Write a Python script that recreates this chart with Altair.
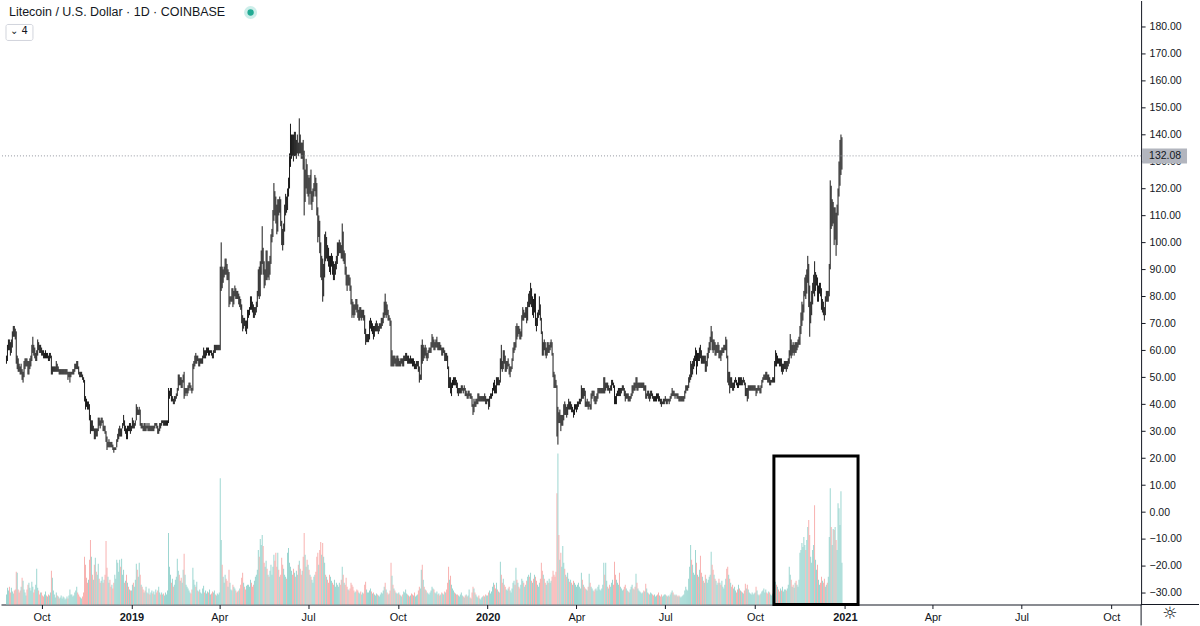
import altair as alt
import pandas as pd

# ---------------- data ----------------
first_day = "2018-08-26"
first_open = 56.0

close = [
    # Aug 2018 (26-31)
    57, 61, 63, 62, 60, 62,
    # Sep 2018
    66, 68, 67, 66, 56, 56, 54, 53, 52, 53, 51, 51, 55, 55, 56, 55, 52, 55, 55, 57, 61, 61, 60, 58, 58, 59, 62, 61, 60, 61,
    # Oct 2018
    60, 59, 58, 58, 59, 58, 58, 57, 58, 58, 53, 53, 53, 53, 53, 54, 53, 53, 52, 52, 52, 52, 52, 52, 52, 52, 52, 51, 51, 51, 51,
    # Nov 2018
    52, 52, 52, 54, 54, 55, 54, 52, 51, 51, 51, 50, 49, 42, 41, 40, 39, 40, 35, 31, 33, 31, 31, 29, 30, 29, 30, 34, 33, 32,
    # Dec 2018
    34, 34, 31, 32, 30, 27, 25, 25, 26, 25, 24, 25, 24, 23, 23, 24, 27, 28, 29, 31, 29, 31, 32, 34, 30, 31, 28, 32, 31, 32, 30,
    # Jan 2019
    32, 34, 32, 33, 34, 38, 37, 37, 38, 33, 33, 32, 31, 33, 31, 32, 32, 31, 32, 31, 31, 32, 31, 32, 32, 33, 32, 30, 31, 33, 32,
    # Feb 2019
    33, 34, 33, 33, 33, 33, 33, 44, 44, 46, 42, 42, 41, 42, 42, 43, 45, 50, 48, 50, 47, 48, 50, 43, 45, 45, 45, 46,
    # Mar 2019
    47, 47, 46, 45, 54, 55, 57, 56, 57, 57, 55, 56, 56, 56, 57, 60, 58, 59, 60, 60, 59, 59, 60, 59, 58, 59, 61, 60, 61, 61, 61,
    # Apr 2019
    61, 85, 89, 87, 89, 90, 93, 91, 88, 88, 78, 79, 79, 82, 77, 81, 82, 81, 80, 81, 78, 78, 76, 72, 68, 71, 70, 69, 69, 74,
    # May 2019
    74, 75, 78, 77, 76, 74, 74, 75, 77, 81, 87, 82, 91, 94, 96, 92, 86, 87, 95, 89, 91, 89, 93, 101, 103, 110, 117, 114, 112, 107, 114,
    # Jun 2019
    113, 115, 107, 103, 100, 105, 111, 116, 113, 119, 122, 130, 136, 137, 136, 133, 139, 134, 136, 137, 135, 138, 135, 134, 134, 130, 118, 124, 128, 120,
    # Jul 2019
    120, 119, 122, 116, 116, 118, 120, 122, 121, 112, 104, 107, 98, 89, 93, 82, 88, 98, 96, 98, 96, 94, 92, 93, 94, 90, 88, 89, 91, 93, 98,
    # Aug 2019
    99, 99, 98, 96, 101, 95, 95, 90, 86, 85, 87, 86, 84, 78, 77, 76, 74, 76, 78, 76, 73, 73, 75, 73, 73, 74, 72, 67, 64, 65, 65,
    # Sep 2019
    65, 70, 70, 68, 68, 66, 68, 69, 69, 68, 68, 69, 69, 71, 71, 73, 76, 74, 76, 75, 72, 72, 70, 57, 57, 55, 57, 56, 56, 57,
    # Oct 2019
    55, 56, 55, 56, 56, 54, 57, 57, 58, 58, 56, 57, 56, 57, 56, 55, 56, 54, 54, 55, 55, 53, 50, 50, 58, 57, 60, 59, 60, 58, 58,
    # Nov 2019
    59, 60, 60, 62, 63, 63, 61, 62, 63, 63, 61, 62, 61, 61, 59, 60, 60, 57, 58, 57, 54, 48, 49, 46, 47, 48, 49, 48, 49, 47,
    # Dec 2019
    45, 45, 45, 45, 45, 46, 45, 46, 44, 44, 43, 44, 44, 43, 43, 40, 38, 41, 40, 41, 41, 43, 42, 42, 42, 42, 43, 42, 43, 41, 41,
    # Jan 2020
    42, 39, 42, 43, 43, 46, 47, 46, 45, 49, 48, 49, 48, 56, 55, 53, 58, 57, 54, 54, 55, 55, 51, 53, 53, 57, 60, 62, 61, 68, 66,
    # Feb 2020
    68, 67, 66, 66, 72, 74, 73, 73, 75, 72, 77, 80, 79, 82, 78, 78, 76, 80, 71, 70, 73, 74, 77, 72, 67, 60, 62, 61, 59,
    # Mar 2020
    59, 62, 61, 61, 62, 63, 59, 51, 49, 48, 47, 32, 37, 34, 36, 32, 34, 34, 39, 38, 38, 36, 39, 40, 39, 40, 38, 38, 36, 39, 39,
    # Apr 2020
    39, 40, 40, 41, 41, 45, 43, 45, 44, 40, 40, 41, 40, 40, 39, 43, 43, 44, 43, 41, 42, 43, 45, 45, 45, 45, 45, 45, 49, 45,
    # May 2020
    47, 47, 46, 46, 45, 46, 48, 48, 47, 42, 41, 43, 44, 45, 44, 45, 45, 46, 46, 44, 42, 43, 43, 41, 42, 42, 44, 46, 45, 47, 46,
    # Jun 2020
    49, 46, 47, 47, 47, 47, 47, 47, 46, 46, 43, 44, 44, 43, 43, 44, 44, 43, 42, 42, 42, 44, 43, 42, 42, 41, 40, 41, 41, 41,
    # Jul 2020
    42, 41, 41, 42, 41, 43, 43, 45, 44, 44, 43, 44, 43, 43, 42, 42, 42, 42, 42, 42, 44, 46, 46, 46, 49, 50, 53, 52, 55, 55, 57,
    # Aug 2020
    59, 55, 58, 57, 60, 59, 56, 57, 56, 57, 53, 55, 58, 60, 61, 64, 66, 63, 61, 63, 59, 61, 61, 62, 58, 59, 58, 60, 60, 61, 61,
    # Sep 2020
    64, 58, 50, 52, 47, 49, 48, 46, 47, 48, 49, 48, 47, 49, 48, 49, 48, 48, 49, 48, 44, 45, 42, 46, 46, 46, 46, 46, 46, 46,
    # Oct 2020
    46, 45, 46, 46, 46, 45, 46, 48, 49, 50, 50, 51, 50, 49, 50, 48, 48, 49, 49, 49, 55, 58, 56, 57, 56, 55, 56, 53, 54, 54, 55,
    # Nov 2020
    55, 54, 55, 56, 59, 63, 59, 61, 60, 60, 62, 61, 62, 63, 64, 68, 71, 74, 75, 81, 86, 83, 88, 90, 82, 71, 76, 80, 82, 87,
    # Dec 2020 (1-29)
    83, 85, 86, 79, 83, 84, 82, 76, 77, 75, 74, 79, 81, 80, 81, 91, 114, 111, 111, 111, 104, 111, 100, 112, 118, 124, 127, 130, 132.08,
]

high = [
    58, 62, 64, 64, 63, 64,
    67, 69, 69, 68, 67, 58, 57, 55, 54, 55, 53, 52, 56, 57, 57, 57, 56, 56, 57, 58, 62, 65, 62, 61, 59, 60, 64, 63, 62, 62,
    61, 60, 60, 59, 60, 59, 59, 58, 59, 59, 58, 54, 54, 54, 54, 56, 55, 54, 53, 53, 53, 53, 53, 53, 53, 53, 53, 52, 52, 52, 52,
    52, 53, 53, 55, 55, 56, 56, 54, 52, 52, 52, 51, 50, 49, 43, 42, 41, 41, 40, 36, 34, 34, 32, 31, 31, 31, 31, 35, 35, 34,
    35, 35, 34, 32, 32, 30, 28, 26, 27, 26, 26, 26, 25, 24, 24, 24, 27, 29, 31, 32, 31, 31, 33, 36, 34, 32, 31, 32, 32, 33, 33,
    32, 35, 34, 33, 34, 40, 39, 38, 39, 38, 33, 33, 32, 33, 33, 32, 33, 32, 33, 32, 32, 32, 32, 32, 33, 33, 33, 32, 31, 33, 33,
    34, 34, 34, 34, 34, 34, 34, 46, 45, 46, 46, 43, 42, 43, 43, 44, 46, 51, 51, 50, 50, 49, 51, 52, 46, 46, 46, 47,
    48, 48, 47, 46, 55, 56, 58, 59, 58, 58, 57, 57, 57, 57, 58, 61, 60, 60, 61, 61, 61, 60, 60, 60, 59, 60, 62, 62, 62, 62, 62,
    62, 91, 100, 91, 90, 91, 94, 94, 92, 90, 89, 80, 80, 83, 83, 82, 84, 83, 82, 82, 81, 80, 79, 77, 73, 72, 72, 71, 71, 75,
    75, 76, 80, 80, 78, 77, 76, 76, 78, 82, 90, 91, 93, 97, 106, 98, 93, 90, 97, 97, 93, 93, 95, 103, 105, 112, 122, 119, 117, 114, 116,
    116, 117, 116, 108, 105, 107, 114, 118, 117, 120, 124, 133, 144, 140, 140, 140, 141, 141, 138, 140, 137, 146, 140, 137, 137, 138, 134, 127, 131, 129,
    125, 124, 125, 127, 119, 120, 122, 125, 124, 122, 113, 110, 108, 100, 95, 94, 92, 103, 104, 102, 99, 98, 95, 95, 96, 95, 93, 92, 93, 95, 100,
    100, 101, 100, 99, 107, 104, 97, 96, 91, 88, 88, 88, 87, 84, 79, 78, 77, 77, 79, 79, 77, 75, 76, 76, 75, 75, 75, 73, 68, 66, 66,
    66, 71, 72, 71, 70, 69, 69, 70, 71, 70, 69, 70, 70, 72, 72, 74, 78, 81, 78, 77, 75, 73, 72, 71, 60, 58, 58, 58, 57, 58,
    58, 57, 56, 57, 57, 57, 58, 58, 59, 59, 58, 58, 57, 58, 57, 57, 57, 56, 55, 56, 56, 56, 54, 51, 62, 64, 62, 61, 62, 61, 59,
    60, 61, 61, 63, 66, 65, 64, 63, 64, 65, 63, 63, 63, 62, 61, 61, 61, 60, 59, 59, 58, 54, 50, 50, 48, 49, 50, 50, 50, 49,
    48, 46, 46, 46, 47, 47, 46, 47, 46, 45, 44, 45, 45, 44, 44, 43, 40, 42, 41, 42, 42, 44, 44, 43, 43, 43, 43, 43, 44, 43, 42,
    42, 42, 43, 44, 44, 46, 48, 49, 47, 50, 50, 50, 49, 57, 62, 56, 60, 60, 58, 56, 56, 57, 55, 54, 54, 57, 61, 63, 63, 69, 70,
    69, 69, 68, 67, 73, 76, 75, 74, 76, 76, 78, 81, 82, 85, 83, 80, 79, 81, 81, 72, 74, 75, 80, 77, 72, 67, 63, 64, 63,
    61, 63, 63, 62, 63, 64, 63, 59, 52, 51, 49, 47, 39, 37, 38, 36, 36, 36, 40, 41, 40, 39, 40, 42, 41, 41, 40, 39, 38, 40, 40,
    40, 41, 41, 42, 42, 47, 46, 46, 46, 45, 41, 42, 41, 41, 40, 44, 45, 45, 45, 43, 43, 44, 46, 46, 46, 46, 46, 46, 50, 50,
    48, 48, 48, 47, 46, 47, 49, 49, 48, 47, 43, 44, 45, 46, 46, 46, 46, 47, 47, 46, 45, 44, 44, 44, 43, 43, 44, 47, 47, 48, 48,
    50, 50, 48, 48, 48, 48, 48, 48, 48, 47, 47, 44, 45, 45, 44, 45, 45, 44, 43, 43, 43, 44, 44, 44, 43, 42, 42, 41, 42, 42,
    43, 42, 42, 42, 42, 43, 44, 46, 45, 45, 44, 44, 44, 44, 43, 43, 43, 43, 43, 43, 45, 47, 47, 47, 50, 51, 56, 55, 56, 57, 58,
    61, 60, 59, 59, 61, 62, 60, 58, 58, 58, 58, 56, 59, 61, 63, 65, 69, 67, 64, 64, 63, 62, 62, 63, 62, 60, 60, 61, 61, 62, 62,
    65, 64, 58, 52, 52, 50, 50, 48, 48, 49, 50, 49, 48, 50, 50, 50, 50, 49, 50, 49, 48, 46, 46, 47, 47, 47, 47, 47, 47, 47,
    47, 46, 46, 47, 47, 46, 47, 49, 50, 51, 51, 52, 52, 51, 51, 50, 49, 49, 50, 50, 56, 60, 59, 58, 57, 57, 57, 57, 55, 55, 56,
    56, 56, 56, 57, 60, 66, 64, 62, 63, 62, 63, 63, 63, 64, 65, 69, 74, 78, 77, 82, 87, 88, 90, 95, 92, 84, 78, 82, 85, 88,
    93, 89, 88, 87, 84, 85, 85, 83, 79, 78, 76, 80, 82, 82, 82, 92, 123, 121, 116, 115, 113, 113, 111, 114, 120, 130, 138, 140, 139,
]

low = [
    55, 56, 60, 60, 58, 59,
    61, 65, 65, 64, 55, 53, 52, 52, 51, 51, 49, 48, 50, 53, 54, 54, 51, 51, 53, 54, 56, 59, 58, 57, 56, 56, 58, 60, 59, 59,
    58, 58, 57, 57, 57, 57, 57, 56, 56, 57, 51, 51, 52, 52, 52, 52, 52, 52, 51, 51, 51, 51, 51, 51, 51, 51, 51, 49, 50, 48, 50,
    51, 51, 51, 52, 53, 53, 53, 51, 50, 50, 50, 49, 48, 41, 38, 39, 38, 38, 34, 29, 30, 30, 30, 27, 27, 28, 28, 30, 32, 31,
    32, 33, 30, 30, 29, 26, 23, 24, 24, 24, 24, 24, 23, 22, 23, 23, 24, 26, 27, 28, 28, 28, 31, 32, 30, 29, 27, 27, 30, 30, 29,
    30, 31, 31, 31, 32, 34, 36, 36, 36, 32, 31, 31, 30, 30, 30, 30, 31, 30, 30, 30, 30, 30, 30, 30, 31, 32, 31, 29, 29, 30, 31,
    32, 33, 32, 32, 32, 32, 32, 33, 42, 43, 41, 41, 40, 40, 41, 42, 43, 45, 47, 47, 46, 46, 48, 42, 43, 44, 43, 44,
    45, 46, 45, 44, 45, 53, 54, 55, 55, 56, 54, 54, 55, 55, 55, 57, 57, 57, 58, 59, 58, 58, 59, 58, 57, 57, 59, 59, 60, 60, 60,
    60, 60, 82, 83, 85, 87, 88, 88, 86, 86, 76, 77, 78, 78, 76, 77, 80, 79, 79, 79, 77, 76, 75, 70, 67, 68, 69, 67, 66, 68,
    72, 73, 75, 75, 74, 72, 72, 73, 74, 76, 80, 79, 80, 88, 92, 88, 83, 84, 86, 86, 87, 86, 88, 92, 100, 102, 108, 110, 107, 103, 104,
    110, 111, 106, 99, 97, 99, 104, 110, 111, 112, 117, 120, 128, 131, 132, 130, 132, 132, 131, 133, 132, 133, 133, 131, 131, 127, 110, 115, 120, 118,
    117, 114, 118, 114, 112, 115, 117, 119, 117, 110, 100, 102, 96, 87, 86, 78, 80, 87, 93, 94, 93, 91, 89, 88, 91, 88, 86, 86, 88, 90, 92,
    95, 96, 96, 94, 94, 93, 92, 88, 84, 82, 84, 84, 82, 77, 72, 73, 72, 73, 75, 74, 72, 71, 71, 72, 71, 72, 71, 66, 62, 63, 63,
    63, 64, 68, 67, 66, 64, 65, 67, 67, 67, 66, 67, 68, 68, 69, 70, 72, 73, 72, 73, 71, 71, 69, 54, 54, 54, 54, 55, 54, 54,
    54, 54, 54, 54, 55, 54, 54, 56, 56, 56, 55, 55, 55, 55, 55, 54, 54, 53, 53, 53, 54, 52, 48, 49, 49, 55, 56, 57, 58, 57, 56,
    57, 59, 59, 59, 61, 61, 60, 60, 61, 61, 60, 60, 60, 60, 58, 58, 59, 56, 56, 56, 53, 46, 46, 44, 43, 46, 47, 47, 47, 46,
    44, 43, 44, 44, 44, 45, 44, 45, 43, 43, 42, 42, 43, 42, 42, 39, 36, 37, 39, 39, 40, 40, 41, 41, 41, 41, 41, 41, 41, 40, 40,
    41, 38, 39, 42, 42, 43, 45, 44, 44, 44, 47, 47, 47, 48, 53, 52, 53, 55, 52, 52, 53, 54, 51, 50, 52, 53, 56, 59, 60, 61, 64,
    65, 66, 64, 64, 65, 71, 71, 72, 72, 70, 71, 76, 76, 77, 76, 73, 72, 74, 69, 67, 69, 72, 73, 71, 66, 58, 58, 60, 58,
    57, 58, 59, 59, 60, 61, 58, 50, 46, 46, 46, 28, 25, 33, 33, 30, 32, 32, 34, 36, 36, 35, 36, 38, 38, 38, 37, 37, 35, 36, 38,
    37, 38, 39, 40, 40, 41, 42, 42, 43, 39, 39, 39, 38, 39, 38, 38, 42, 43, 41, 40, 40, 41, 42, 44, 44, 44, 44, 44, 44, 44,
    45, 46, 45, 45, 44, 45, 45, 47, 46, 40, 40, 40, 43, 43, 43, 43, 44, 45, 45, 43, 41, 42, 42, 41, 41, 41, 42, 43, 44, 45, 45,
    46, 45, 45, 46, 46, 46, 46, 46, 45, 45, 42, 42, 43, 42, 41, 42, 43, 42, 41, 41, 41, 41, 42, 41, 41, 40, 39, 40, 40, 40,
    41, 40, 40, 41, 40, 41, 42, 43, 43, 43, 42, 43, 42, 42, 41, 41, 41, 41, 41, 41, 42, 44, 45, 45, 46, 48, 49, 50, 51, 53, 54,
    56, 51, 54, 56, 56, 57, 55, 55, 55, 55, 52, 52, 54, 57, 59, 60, 63, 60, 59, 60, 58, 58, 59, 59, 57, 57, 56, 58, 59, 59, 60,
    60, 57, 48, 47, 44, 46, 46, 45, 45, 46, 48, 47, 46, 46, 47, 47, 47, 47, 48, 47, 43, 43, 41, 42, 45, 45, 45, 45, 45, 45,
    45, 43, 44, 45, 45, 44, 44, 46, 48, 49, 49, 49, 49, 48, 48, 47, 47, 48, 48, 48, 48, 54, 54, 55, 55, 54, 54, 52, 51, 52, 53,
    53, 52, 53, 54, 55, 58, 57, 58, 59, 58, 59, 59, 60, 61, 62, 62, 66, 69, 71, 74, 80, 79, 81, 85, 76, 65, 70, 73, 77, 81,
    80, 82, 84, 78, 78, 81, 80, 75, 74, 73, 71, 73, 78, 78, 78, 80, 90, 105, 106, 107, 99, 101, 95, 99, 110, 117, 121, 125, 127,
]

# daily volume, in units of 10k LTC
volume = [
    10, 17, 14, 18, 12, 17,
    13, 11, 14, 15, 33, 32, 15, 12, 14, 18, 27, 24, 15, 12, 9, 15, 20, 22, 17, 14, 23, 18, 12, 15, 20, 36, 17, 14, 10, 12,
    12, 9, 8, 10, 13, 9, 8, 10, 9, 12, 34, 27, 14, 10, 7, 12, 9, 8, 6, 7, 9, 6, 8, 7, 5, 6, 8, 6, 9, 15, 10,
    10, 8, 9, 12, 14, 18, 12, 10, 8, 7, 6, 8, 12, 48, 40, 27, 22, 25, 45, 65, 48, 30, 25, 40, 47, 33, 30, 41, 26, 22,
    24, 28, 22, 25, 30, 64, 37, 28, 22, 25, 18, 20, 16, 22, 30, 26, 45, 42, 33, 45, 38, 46, 30, 35, 22, 24, 30, 22, 18, 15, 14,
    14, 20, 22, 18, 25, 41, 35, 28, 42, 30, 20, 18, 15, 12, 14, 18, 12, 11, 16, 10, 12, 14, 11, 13, 10, 15, 12, 14, 18, 12, 10,
    12, 10, 11, 9, 12, 10, 14, 72, 38, 30, 22, 26, 18, 20, 25, 28, 46, 34, 30, 24, 27, 22, 35, 51, 30, 20, 18, 16,
    14, 12, 11, 15, 37, 25, 20, 18, 23, 14, 13, 15, 12, 11, 16, 19, 12, 14, 11, 13, 12, 15, 10, 11, 13, 12, 14, 10, 9, 11, 10,
    12, 127, 65, 40, 28, 22, 30, 26, 24, 18, 35, 22, 15, 14, 20, 18, 16, 14, 12, 13, 14, 16, 20, 27, 32, 22, 18, 15, 19, 20,
    20, 18, 25, 22, 18, 20, 24, 28, 30, 35, 55, 48, 66, 60, 70, 59, 42, 38, 44, 36, 30, 28, 34, 40, 30, 38, 50, 44, 52, 38, 52,
    35, 28, 30, 47, 40, 36, 30, 28, 26, 52, 57, 42, 38, 34, 30, 36, 32, 28, 34, 30, 40, 44, 36, 30, 34, 48, 72, 50, 38, 45,
    40, 35, 30, 28, 25, 22, 28, 30, 33, 48, 52, 40, 55, 63, 50, 62, 48, 42, 30, 28, 25, 22, 30, 28, 24, 22, 20, 25, 18, 22, 20,
    18, 22, 20, 25, 38, 30, 22, 20, 27, 18, 15, 14, 16, 22, 20, 18, 14, 12, 13, 15, 14, 12, 11, 13, 10, 12, 11, 20, 23, 15, 12,
    12, 14, 16, 13, 11, 12, 10, 9, 11, 10, 9, 8, 10, 12, 11, 14, 18, 22, 15, 12, 10, 11, 14, 42, 29, 20, 16, 14, 12, 11,
    11, 12, 10, 9, 8, 10, 13, 12, 15, 11, 10, 9, 8, 9, 11, 10, 9, 12, 8, 9, 10, 14, 18, 16, 35, 40, 25, 18, 15, 14, 12,
    11, 10, 12, 14, 18, 16, 15, 12, 11, 13, 10, 11, 9, 10, 12, 11, 10, 13, 12, 15, 22, 38, 25, 29, 20, 16, 14, 12, 11, 10,
    10, 9, 8, 10, 12, 9, 8, 7, 9, 10, 8, 9, 15, 7, 6, 12, 18, 16, 12, 10, 8, 7, 9, 6, 5, 7, 8, 9, 8, 10, 9,
    9, 12, 14, 11, 13, 18, 22, 20, 16, 22, 15, 13, 12, 43, 30, 22, 26, 20, 18, 15, 14, 16, 18, 14, 12, 16, 22, 24, 20, 37, 25,
    22, 18, 16, 20, 26, 24, 22, 18, 20, 24, 28, 30, 28, 32, 24, 22, 26, 30, 28, 24, 20, 18, 22, 26, 42, 34, 30, 26, 22,
    20, 24, 22, 26, 22, 24, 28, 34, 30, 28, 33, 112, 152, 70, 45, 52, 38, 59, 42, 36, 30, 28, 32, 26, 23, 25, 22, 20, 24, 22, 20,
    18, 20, 22, 18, 16, 32, 25, 20, 18, 16, 15, 14, 18, 31, 22, 18, 16, 14, 13, 15, 16, 14, 18, 20, 15, 14, 16, 20, 42, 30,
    42, 24, 18, 16, 20, 18, 22, 25, 20, 43, 30, 25, 22, 20, 32, 18, 16, 14, 15, 18, 20, 16, 14, 13, 12, 15, 18, 20, 16, 15, 18,
    31, 22, 16, 14, 13, 12, 11, 12, 14, 13, 21, 16, 12, 11, 10, 12, 11, 10, 9, 10, 8, 9, 10, 12, 9, 8, 10, 8, 9, 10,
    10, 9, 8, 9, 8, 10, 12, 14, 12, 10, 9, 10, 9, 8, 9, 8, 7, 8, 9, 10, 14, 18, 15, 14, 26, 38, 60, 45, 40, 32, 30,
    55, 42, 30, 28, 35, 49, 32, 28, 24, 22, 30, 26, 22, 25, 28, 30, 53, 40, 35, 30, 26, 24, 20, 22, 26, 22, 20, 24, 18, 16, 20,
    26, 36, 38, 30, 26, 22, 18, 20, 16, 18, 14, 12, 15, 20, 16, 14, 13, 12, 11, 14, 21, 16, 20, 15, 12, 11, 10, 12, 10, 11,
    12, 18, 14, 10, 9, 10, 11, 13, 14, 16, 12, 15, 12, 11, 13, 12, 10, 9, 11, 14, 42, 23, 20, 18, 15, 13, 16, 14, 18, 13, 15,
    15, 14, 16, 20, 38, 30, 25, 18, 20, 17, 22, 24, 20, 18, 25, 52, 55, 62, 58, 68, 60, 55, 65, 78, 85, 70, 48, 42, 55, 60,
    100, 45, 35, 40, 25, 20, 22, 28, 24, 22, 26, 18, 20, 22, 28, 68, 117, 78, 60, 76, 75, 78, 65, 55, 102, 97, 80, 114, 42,
]

y_ticks = list(range(-30, 190, 10))
x_tick_dates = ["2018-10-01", "2019-01-01", "2019-04-01", "2019-07-01", "2019-10-01",
                "2020-01-01", "2020-04-01", "2020-07-01", "2020-10-01",
                "2021-01-01", "2021-04-01", "2021-07-01", "2021-10-01"]
x_domain = ["2018-08-25T12:00:00", "2021-10-26T09:36:00"]
price_domain = [-34.3, 189.7]
box_start, box_end, box_top = "2020-10-20T07:00:00", "2021-01-14T12:00:00", 20.8
title_text = "Litecoin / U.S. Dollar · 1D · COINBASE"

# ---------------- build tables ----------------
n = len(close)
assert len(high) == n and len(low) == n and len(volume) == n, (n, len(high), len(low), len(volume))


def ms(s):
    return int(pd.Timestamp(s, tz="UTC").value // 10**6)


dates = pd.date_range(first_day, periods=n, freq="D")
opens = [first_open] + close[:-1]
df = pd.DataFrame({
    "date": [ms(d.strftime("%Y-%m-%d")) for d in dates],
    "open": opens, "high": high, "low": low, "close": close, "volume": volume,
})
df["dir"] = ["up" if c >= o else "down" for c, o in zip(close, opens)]
last = df.tail(1)
box_df = pd.DataFrame({"start": [ms(box_start)], "end": [ms(box_end)],
                       "top": [box_top], "bottom": [price_domain[0]]})

FONT = "Liberation Sans"
INK = "#131722"

xscale = alt.Scale(type="utc", domain=[ms(x_domain[0]), ms(x_domain[1])])
is_jan = "utcFormat(datum.value, '%m') == '01'"
xaxis = alt.Axis(
    values=[ms(d) for d in x_tick_dates],
    labelExpr=f"{is_jan} ? utcFormat(datum.value, '%Y') : utcFormat(datum.value, '%b')",
    labelFontWeight={"condition": {"test": is_jan, "value": "bold"}, "value": "normal"},
    title=None, grid=False, tickSize=4, tickColor=INK, domainColor=INK,
    labelColor=INK, labelFont=FONT, labelFontSize=11, labelPadding=3,
    labelFlush=False, labelOverlap=False,
)
X = alt.X("date:T", scale=xscale, axis=xaxis)
pscale = alt.Scale(domain=price_domain, nice=False, zero=False)
yaxis = alt.Axis(
    orient="right", values=y_ticks, format=".2f", title=None, grid=False,
    tickSize=4, tickColor=INK, domainColor=INK, labelColor=INK,
    labelFont=FONT, labelFontSize=10.5, labelPadding=4, zindex=0,
)

vol = alt.Chart(df).mark_bar(width=0.9).encode(
    x=X,
    y=alt.Y("volume:Q", scale=alt.Scale(domain=[0, 4 * max(volume)], nice=False), axis=None),
    color=alt.Color("dir:N", scale=alt.Scale(domain=["up", "down"], range=["#92d2cc", "#f7a9a7"]), legend=None),
)

price = alt.Chart(df).mark_rule(color="#000000", strokeWidth=0.9).encode(
    x=X,
    y=alt.Y("low:Q", scale=pscale, axis=yaxis),
    y2="high:Q",
)

last_line = alt.Chart(last).mark_rule(color="#9598a1", strokeDash=[1, 2], strokeWidth=1).encode(
    y=alt.Y("close:Q", scale=pscale, axis=None),
)
last_box = alt.Chart(last).mark_rect(color="#b2b5be", yOffset=-7.5, y2Offset=7.5).encode(
    x=alt.value(1143), x2=alt.value(1188),
    y=alt.Y("close:Q", scale=pscale, axis=None), y2="close:Q",
)
last_text = alt.Chart(last).mark_text(align="left", baseline="middle", font=FONT, fontSize=10.5, color=INK).encode(
    x=alt.value(1150),
    y=alt.Y("close:Q", scale=pscale, axis=None),
    text=alt.Text("close:Q", format=".2f"),
)

box = alt.Chart(box_df).mark_rect(fillOpacity=0, stroke="#000000", strokeWidth=3).encode(
    x=alt.X("start:T", scale=xscale, axis=xaxis), x2="end:T",
    y=alt.Y("top:Q", scale=pscale, axis=None), y2="bottom:Q",
)

one = pd.DataFrame({"t": [title_text]})
header = alt.Chart(one).mark_text(align="left", baseline="middle", font=FONT, fontSize=12.5, color=INK).encode(
    x=alt.value(8), y=alt.value(12), text="t:N")
halo = alt.Chart(one).mark_circle(size=170, color="#cdeeea", opacity=1).encode(x=alt.value(250), y=alt.value(12))
dot = alt.Chart(one).mark_circle(size=40, color="#22ab94", opacity=1).encode(x=alt.value(250), y=alt.value(12))
chip = alt.Chart(one).mark_rect(fill="white", stroke="#d1d4dc", strokeWidth=1, cornerRadius=2).encode(
    x=alt.value(5), x2=alt.value(32), y=alt.value(24), y2=alt.value(40))
chip_text = alt.Chart(pd.DataFrame({"t": ["⌄ 4"]})).mark_text(
    align="left", baseline="middle", font="DejaVu Sans", fontSize=10, color=INK).encode(
    x=alt.value(9), y=alt.value(31), text="t:N")
gear = alt.Chart(pd.DataFrame({"t": ["☼"]})).mark_text(
    align="center", baseline="middle", font="DejaVu Sans", fontSize=17, color=INK).encode(
    x=alt.value(1171), y=alt.value(615), text="t:N")
edge_h = alt.Chart(one).mark_rule(color=INK, strokeWidth=1).encode(
    x=alt.value(1142), x2=alt.value(1200), y=alt.value(605))
edge_v = alt.Chart(one).mark_rule(color=INK, strokeWidth=1).encode(
    x=alt.value(1142), y=alt.value(605), y2=alt.value(626))

chart = alt.layer(
    vol, price, last_line, box, last_box, last_text,
    header, halo, dot, chip, chip_text, gear, edge_h, edge_v,
).resolve_scale(y="independent").properties(
    width=1142, height=605, padding=0, background="white",
).configure_view(stroke=None)

chart.save("out.html", embed_options={"renderer": "svg", "actions": False})
